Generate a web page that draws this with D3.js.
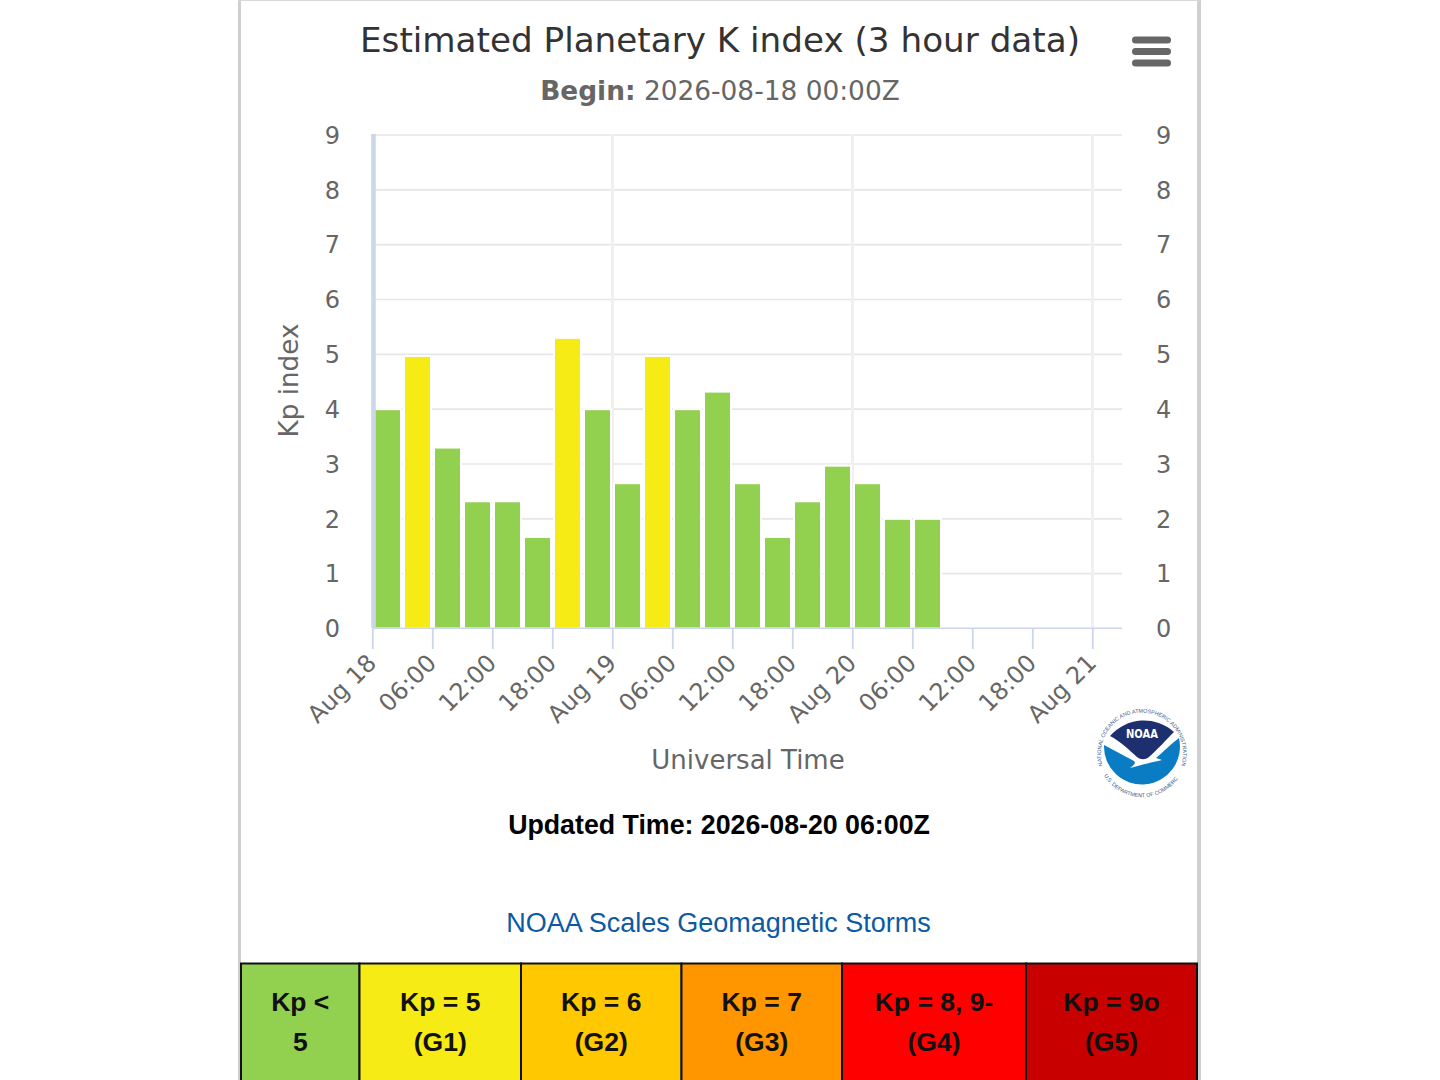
<!DOCTYPE html>
<html><head><meta charset="utf-8">
<script src="https://cdn.jsdelivr.net/npm/d3@7"></script>
<style>html,body{margin:0;padding:0;background:#fff;overflow:hidden}svg{display:block}</style>
</head><body><svg id="c" width="1440" height="1080"></svg>
<script>
const kpValues=[4,4.97,3.3,2.32,2.32,1.67,5.3,4,2.65,4.97,4,4.32,2.65,1.67,2.32,2.97,2.65,2,2];
const hoursStep=3;
const startTime=Date.UTC(2026,7,18,0);
const endTime=Date.UTC(2026,7,21,0);
const yTicks=[0,1,2,3,4,5,6,7,8,9];
const scaleLabels=[["Kp <","5"],["Kp = 5","(G1)"],["Kp = 6","(G2)"],["Kp = 7","(G3)"],["Kp = 8, 9-","(G4)"],["Kp = 9o","(G5)"]];
const scaleColors=["#92D050","#F6EB14","#FFC800","#FF9600","#FF0000","#C80000"];
const scaleEdges=[241,359.5,521,681.5,842,1026,1197];

const svg=d3.select("#c");
const dv="'DejaVu Sans',sans-serif", lb="'Liberation Sans',Arial,sans-serif";
// page frame
svg.append("rect").attr("x",238).attr("y",0).attr("width",3).attr("height",1080).attr("fill","#cfcfcf");
svg.append("rect").attr("x",1197).attr("y",0).attr("width",4).attr("height",1080).attr("fill","#cfcfcf");
svg.append("rect").attr("x",238).attr("y",0).attr("width",963).attr("height",1).attr("fill","#d8d8d8");

const x=d3.scaleUtc().domain([startTime,endTime]).range([372.3,1092.3]);
const y=d3.scaleLinear().domain([0,9]).range([628.5,135]);
const xEnd=1122;

// gridlines
svg.append("g").selectAll("line").data(yTicks.slice(1)).join("line")
 .attr("x1",373).attr("x2",xEnd).attr("y1",d=>y(d)).attr("y2",d=>y(d))
 .attr("stroke","#e6e6e6").attr("stroke-width",1.6);
svg.append("g").selectAll("line").data(d3.utcDay.range(startTime+1,endTime+1)).join("line")
 .attr("x1",d=>x(d)+0.2).attr("x2",d=>x(d)+0.2).attr("y1",134).attr("y2",628)
 .attr("stroke","#f0f0f0").attr("stroke-width",3);

// bars
svg.append("g").selectAll("rect").data(kpValues).join("rect")
 .attr("x",(d,i)=>x(startTime+i*hoursStep*36e5)+1.7)
 .attr("width",27)
 .attr("y",d=>y(d)).attr("height",d=>y(0)-y(d))
 .attr("fill",d=>d>=4.9?scaleColors[1]:scaleColors[0])
 .attr("stroke","#fff").attr("stroke-width",2);

// x axis
const fmt=d=>d.getUTCHours()===0?d3.utcFormat("%b %d")(d):d3.utcFormat("%H:%M")(d);
const gx=svg.append("g").attr("transform","translate(0,628.5)")
 .call(d3.axisBottom(x).ticks(d3.utcHour.every(6)).tickFormat(fmt).tickSize(20.5).tickSizeOuter(0));
gx.select(".domain").remove();
gx.selectAll("line").attr("stroke","#ccd6eb").attr("stroke-width",1.8);
gx.selectAll("text").attr("fill","#666").style("font-family",dv).style("font-size","24px")
 .attr("text-anchor","end").attr("dy",0).attr("y",0)
 .attr("transform","translate(0,31) rotate(-45)").attr("dominant-baseline","middle");
svg.append("line").attr("x1",373).attr("x2",xEnd).attr("y1",628.3).attr("y2",628.3).attr("stroke","#ccd6eb").attr("stroke-width",1.6);
svg.append("line").attr("x1",373.5).attr("x2",373.5).attr("y1",134).attr("y2",628).attr("stroke","#ccd6eb").attr("stroke-width",4.6);

// y axes
const yLeft=svg.append("g").attr("transform","translate(340,0.5)").call(d3.axisLeft(y).tickValues(yTicks).tickFormat(d3.format("d")).tickSize(0).tickPadding(0));
const yRight=svg.append("g").attr("transform","translate(1156,0.5)").call(d3.axisRight(y).tickValues(yTicks).tickFormat(d3.format("d")).tickSize(0).tickPadding(0));
[yLeft,yRight].forEach(g=>{g.select(".domain").remove();
 g.selectAll("text").attr("fill","#666").style("font-family",dv).style("font-size","24px");});

// titles
svg.append("text").attr("x",720).attr("y",52).attr("text-anchor","middle").attr("fill","#333")
 .style("font-family",dv).style("font-size","34.2px").text("Estimated Planetary K index (3 hour data)");
const sub=svg.append("text").attr("x",720).attr("y",99.5).attr("text-anchor","middle").attr("fill","#666")
 .style("font-family",dv).style("font-size","26.4px");
sub.append("tspan").style("font-weight","bold").text("Begin:");
sub.append("tspan").text(" 2026-08-18 00:00Z");
svg.append("text").attr("transform","translate(298,380.5) rotate(-90)").attr("text-anchor","middle").attr("fill","#666")
 .style("font-family",dv).style("font-size","26.2px").text("Kp index");
svg.append("text").attr("x",748).attr("y",769).attr("text-anchor","middle").attr("fill","#666")
 .style("font-family",dv).style("font-size","26px").text("Universal Time");

// menu icon
svg.append("g").selectAll("rect").data([0,1,2]).join("rect")
 .attr("x",1132).attr("y",d=>36.5+d*11.5).attr("width",39).attr("height",7).attr("rx",3.5).attr("fill","#666");

// footer texts
svg.append("text").attr("x",719).attr("y",834).attr("text-anchor","middle").attr("fill","#000")
 .style("font-family",lb).style("font-weight","bold").style("font-size","26.75px").text("Updated Time: 2026-08-20 06:00Z");
svg.append("text").attr("x",718.5).attr("y",932).attr("text-anchor","middle").attr("fill","#0b5aa5")
 .style("font-family",lb).style("font-size","27px").text("NOAA Scales Geomagnetic Storms");

// scale table
const cells=svg.append("g").selectAll("g").data(scaleLabels).join("g");
cells.append("rect").attr("x",(d,i)=>scaleEdges[i]).attr("y",963.5)
 .attr("width",(d,i)=>scaleEdges[i+1]-scaleEdges[i]).attr("height",120)
 .attr("fill",(d,i)=>scaleColors[i]).attr("stroke","#111").attr("stroke-width",2);
cells.each(function(d,i){
 const cx=(scaleEdges[i]+scaleEdges[i+1])/2;
 d.forEach((t,j)=>d3.select(this).append("text").attr("x",cx).attr("y",1010.5+j*40).attr("text-anchor","middle")
  .attr("fill","#111").style("font-family",lb).style("font-weight","bold").style("font-size","26.5px").text(t));
});

// NOAA logo
const logo=svg.append("g").attr("transform","translate(1142,753)");
const defs=svg.append("defs");
defs.append("path").attr("id","arcTop").attr("d","M-38,16 A41,41 0 1 1 38,16");
defs.append("path").attr("id","arcBot").attr("d","M-37,24 A44,44 0 0 0 37,24");
logo.append("path").attr("d","M-38,-8 A38,38 0 1 0 37,-15 C29,-9 21,-1 14,5 L20,7 C12,9 2,11 -12,15 C-8,12 -6,10 -8,8 C-18,3 -28,-3 -38,-8Z").attr("fill","#0a7cc4");
logo.append("path").attr("d","M-32,-17 A45,45 0 0 1 32,-21 C24,-13 15,-3 7,4 C3,7 -1,7 -5,4 C-13,-3 -22,-12 -32,-17Z").attr("fill","#1d2f6f");
logo.append("text").attr("y",-15).attr("text-anchor","middle").attr("fill","#fff")
 .style("font-family",dv).style("font-weight","bold").style("font-size","12.5px").attr("textLength",32).attr("lengthAdjust","spacingAndGlyphs").text("NOAA");
logo.append("text").attr("fill","#3a5a8c").style("font-family",lb).style("font-size","5.4px")
 .append("textPath").attr("href","#arcTop").attr("startOffset","50%").attr("text-anchor","middle").text("NATIONAL OCEANIC AND ATMOSPHERIC ADMINISTRATION");
logo.append("text").attr("fill","#3a5a8c").style("font-family",lb).style("font-size","5.4px")
 .append("textPath").attr("href","#arcBot").attr("startOffset","50%").attr("text-anchor","middle").text("U.S. DEPARTMENT OF COMMERCE");
</script></body></html>
